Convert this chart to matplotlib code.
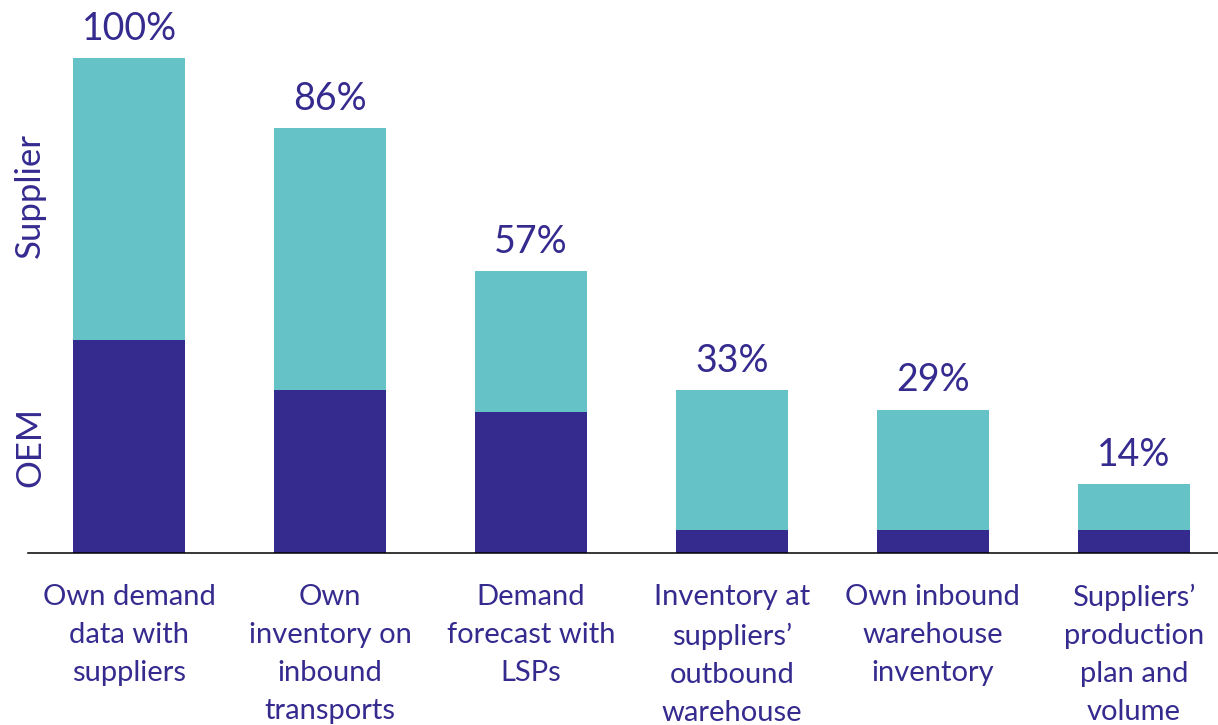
import matplotlib
matplotlib.use("Agg")
import matplotlib.pyplot as plt
import numpy as np

plt.rcParams['font.family'] = ['Lato', 'DejaVu Sans']

categories = [
    "Own demand\ndata with\nsuppliers",
    "Own\ninventory on\ninbound\ntransports",
    "Demand\nforecast with\nLSPs",
    "Inventory at\nsuppliers’\noutbound\nwarehouse",
    "Own inbound\nwarehouse\ninventory",
    "Suppliers’\nproduction\nplan and\nvolume",
]
totals = [100, 86, 57, 33, 29, 14]
oem = [43, 33, 28.5, 4.7, 4.7, 4.7]
supplier = [t - o for t, o in zip(totals, oem)]

TEAL = "#65c3c8"
PURPLE = "#352b8f"

fig = plt.figure(figsize=(12.18, 7.25), dpi=100)
ax = fig.add_axes([28 / 1218, 172 / 725, 1190 / 1218, 494.7 / 725])

x = np.arange(len(categories))
width = 0.557
ax.bar(x, oem, width, color=PURPLE)
ax.bar(x, supplier, width, bottom=oem, color=TEAL)

for xi, total in zip(x, totals):
    ax.annotate(f"{total}%", (xi, total), xytext=(0, 13), textcoords="offset points",
                ha="center", va="baseline", fontsize=27, color=PURPLE)

for xi, label in zip(x, categories):
    ax.text(xi, -0.062, label, transform=ax.get_xaxis_transform(),
            ha="center", va="top", fontsize=21, color=PURPLE, linespacing=1.58)

ax.set_xlim(-0.504, 5.419)
ax.set_ylim(0, 100)
ax.set_xticks([])
ax.set_yticks([])
for side in ["top", "right", "left"]:
    ax.spines[side].set_visible(False)
ax.spines["bottom"].set_linewidth(1.1)
ax.spines["bottom"].set_color("black")

fig.text(30 / 1218, 1 - 195 / 725, "Supplier", rotation=90, ha="center", va="center",
         fontsize=25, color=PURPLE)
fig.text(30 / 1218, 1 - 447 / 725, "OEM", rotation=90, ha="center", va="center",
         fontsize=25, color=PURPLE)

fig.savefig("out.png", dpi=100)
